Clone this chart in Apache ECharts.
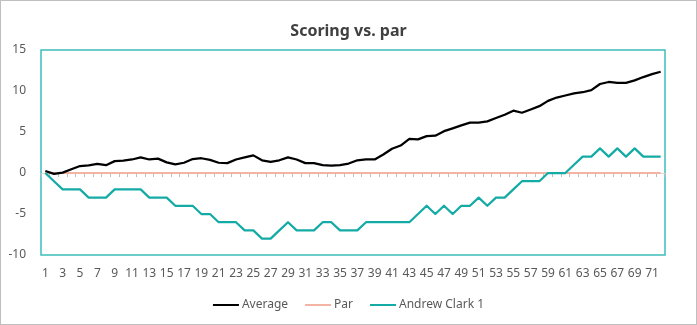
<!DOCTYPE html>
<html>
<head>
<meta charset="utf-8">
<script src="https://cdn.jsdelivr.net/npm/echarts@6/dist/echarts.min.js"></script>
<style>
html,body{margin:0;padding:0;background:#fff;}
#frame{position:absolute;left:0;top:0;width:697px;height:325px;box-sizing:border-box;border:1px solid #bfbfbf;background:#fff;}
#chart{position:absolute;left:0;top:0;width:697px;height:325px;}
</style>
</head>
<body>
<div id="frame"></div>
<div id="chart"></div>
<script>
const holes = Array.from({length: 72}, (_, i) => String(i + 1));
const averageValues = [0.25,-0.1,0.05,0.45,0.85,0.93,1.1,0.95,1.45,1.5,1.65,1.9,1.65,1.75,1.3,1.05,1.25,1.7,
  1.8,1.6,1.25,1.2,1.65,1.9,2.15,1.55,1.35,1.55,1.9,1.65,1.2,1.2,0.97,0.9,0.97,1.15,
  1.55,1.65,1.65,2.25,2.95,3.35,4.15,4.1,4.5,4.55,5.1,5.45,5.8,6.15,6.15,6.3,6.7,7.1,
  7.6,7.35,7.75,8.15,8.8,9.2,9.45,9.7,9.85,10.1,10.85,11.1,11.0,11.0,11.3,11.7,12.05,12.35];
const parValues = Array.from({length: 72}, () => 0);
const andrewValues = [0,-1,-2,-2,-2,-3,-3,-3,-2,-2,-2,-2,-3,-3,-3,-4,-4,-4,
  -5,-5,-6,-6,-6,-7,-7,-8,-8,-7,-6,-7,-7,-7,-6,-6,-7,-7,
  -7,-6,-6,-6,-6,-6,-6,-5,-4,-5,-4,-5,-4,-4,-3,-4,-3,-3,
  -2,-1,-1,-1,0,0,0,1,2,2,3,2,3,2,3,2,2,2];
const yTicks = {min: -10, max: 15, interval: 5};

const FONT = '"Noto Sans", "Open Sans", sans-serif';
const chart = echarts.init(document.getElementById('chart'), null, {renderer: 'canvas'});
chart.setOption({
  animation: false,
  backgroundColor: 'transparent',
  title: {
    text: 'Scoring vs. par',
    left: 'center',
    top: 23,
    padding: 0,
    textStyle: {fontFamily: FONT, fontSize: 16, fontWeight: 'bold', color: '#404040'}
  },
  legend: {
    bottom: 9,
    left: 'center',
    itemWidth: 26,
    itemHeight: 2,
    itemGap: 17,
    icon: 'rect',
    textStyle: {fontFamily: FONT, fontSize: 12, color: '#595959', padding: [0, 0, 0, -2]},
    data: ['Average', 'Par', 'Andrew Clark 1']
  },
  grid: {
    left: 41, top: 50, width: 624, height: 205,
    show: true, borderColor: '#3dbdb9', borderWidth: 1.5, backgroundColor: 'transparent'
  },
  xAxis: [
    {
      type: 'category', data: holes, boundaryGap: true, position: 'bottom',
      axisLine: {show: false, onZero: false},
      axisTick: {show: false},
      axisLabel: {interval: 1, fontFamily: FONT, fontSize: 12, color: '#595959', margin: 13}
    },
    {
      type: 'category', data: holes, boundaryGap: true, position: 'bottom',
      axisLine: {show: true, onZero: true, lineStyle: {color: '#d9d9d9', width: 1}},
      axisTick: {show: true, length: 4, interval: 0, lineStyle: {color: '#bfbfbf', width: 1}},
      axisLabel: {show: false}
    }
  ],
  yAxis: {
    type: 'value', min: yTicks.min, max: yTicks.max, interval: yTicks.interval,
    axisLine: {show: false},
    axisTick: {show: false},
    splitLine: {show: false},
    axisLabel: {fontFamily: FONT, fontSize: 12, color: '#595959', margin: 15}
  },
  series: [
    {
      name: 'Average', type: 'line', data: averageValues, xAxisIndex: 0,
      showSymbol: false, symbol: 'none', z: 4,
      itemStyle: {color: '#000000'},
      lineStyle: {color: '#000000', width: 2.25, join: 'round'}
    },
    {
      name: 'Par', type: 'line', data: parValues, xAxisIndex: 0,
      showSymbol: false, symbol: 'none', z: 3,
      itemStyle: {color: '#f4b4a3'},
      lineStyle: {color: '#f4b4a3', width: 2}
    },
    {
      name: 'Andrew Clark 1', type: 'line', data: andrewValues, xAxisIndex: 0,
      showSymbol: false, symbol: 'none', z: 5,
      itemStyle: {color: '#14aba6'},
      lineStyle: {color: '#14aba6', width: 2.25, join: 'round'}
    }
  ]
});
</script>
</body>
</html>
